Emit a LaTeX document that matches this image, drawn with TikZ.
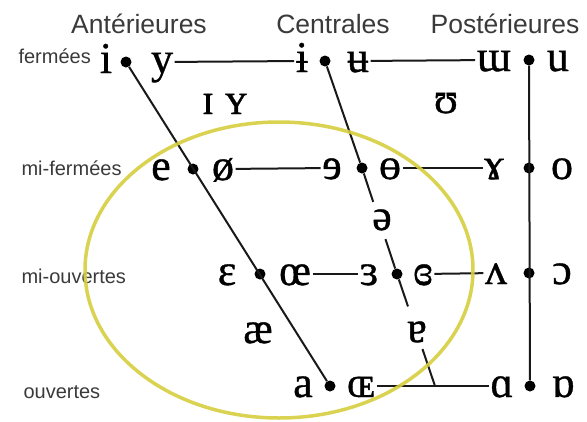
\documentclass[tikz,border=0pt]{standalone}
\usepackage{fontspec}
\setmainfont{Liberation Serif}
\setsansfont{Liberation Sans}
\newfontfamily\ipafont[FakeBold=0.8]{Liberation Serif}
\usetikzlibrary{calc}
\definecolor{ovale}{HTML}{D6CD3E}
\definecolor{etiq}{HTML}{3A3A3A}

\begin{document}
\begin{tikzpicture}[
    x=1pt, y=-1pt,
    voy/.style={font=\ipafont\fontsize{44}{44}\selectfont, inner sep=1.5pt,
        text height=22pt, text depth=0pt},
    pt/.style={circle, fill=black, inner sep=0pt, minimum size=11pt},
    trait/.style={line width=2pt, draw=black!90},
    rang/.style={anchor=base west, text=etiq, font=\sffamily\fontsize{20}{20}\selectfont},
    col/.style={anchor=base, text=etiq, font=\sffamily\fontsize{26.5}{26.5}\selectfont}
]
\useasboundingbox (0,0) rectangle (587,421);
% titres
\node[col] (ant) at (139,33) {Antérieures};
\node[col] (cen) at (333,33) {Centrales};
\node[col] (post) at (505,33) {Postérieures};
\node[rang] (l1) at (15,63) {fermées};
\node[rang] (l2) at (18,175) {mi-fermées};
\node[rang] (l3) at (18,283) {mi-ouvertes};
\node[rang] (l4) at (20,398) {ouvertes};
% points
\node[pt] (f1) at (126,62) {};
\node[pt] (f2) at (193,169) {};
\node[pt] (f3) at (260,274) {};
\node[pt] (f4) at (330,386) {};
\node[pt] (c1) at (325,61) {};
\node[pt] (c2) at (362,168) {};
\node[pt] (c3) at (397,274) {};
\coordinate (c4) at (435,386);
\node[pt] (p1) at (529,60) {};
\node[pt] (p2) at (529,168) {};
\node[pt] (p3) at (529,273) {};
\node[pt] (p4) at (530,386) {};
% voyelles
\node[voy] (i) at (106,62) {i};
\node[voy] (y) at (162,62) {y};
\node[voy] (ibar) at (302,61) {ɨ};
\node[voy] (ubar) at (358,61) {ʉ};
\node[voy] (wm) at (494,60) {ɯ};
\node[voy] (u) at (558,60) {u};
\node[voy] (e) at (161,169) {e};
\node[voy] (oslash) at (223,169) {ø};
\node[voy] (reve) at (332,168) {ɘ};
\node[voy] (obar) at (390,168) {ɵ};
\node[voy] (ramshorn) at (494,168) {ɤ};
\node[voy] (o) at (562,168) {o};
\node[voy] (eps) at (227,274) {ɛ};
\node[voy] (oe) at (295,274) {œ};
\node[voy] (reveps) at (369,274) {ɜ};
\node[voy] (closedeps) at (423,274) {ɞ};
\node[voy] (wedge) at (496,273) {ʌ};
\node[voy] (openo) at (562,273) {ɔ};
\node[voy] (a) at (303,386) {a};
\node[voy] (OE) at (361,386) {ɶ};
\node[voy] (alpha) at (502,386) {ɑ};
\node[voy] (turnalpha) at (563,386) {ɒ};
\node[voy] (smalli) at (208,103) {ɪ};
\node[voy] (smally) at (236,103) {ʏ};
\node[voy] (upsilon) at (446,102) {ʊ};
\node[voy] (schwa) at (382,219) {ə};
\node[voy] (ae) at (258,332) {æ};
\node[voy] (turna) at (417,331) {ɐ};
% traits
\draw[trait] (f1) -- (f4);
\draw[trait] (p1) -- (p4);
\draw[trait] (c1) -- (c2) -- ($(c2)!0.32!(c3)$);
\draw[trait] ($(c2)!0.67!(c3)$) -- (c3) -- ($(c3)!0.29!(c4)$);
\draw[trait] ($(c3)!0.67!(c4)$) -- (c4);
\draw[trait] (y) -- (ibar);
\draw[trait] (ubar) -- (wm);
\draw[trait] (oslash) -- (reve);
\draw[trait] (obar) -- (ramshorn);
\draw[trait] (oe) -- (reveps);
\draw[trait] (closedeps) -- (wedge);
\draw[trait] (OE) -- (alpha);
% ovale
\draw[ovale, line width=3.5pt, draw opacity=0.9] (279,270) ellipse [x radius=194, y radius=148];
\end{tikzpicture}
\end{document}
